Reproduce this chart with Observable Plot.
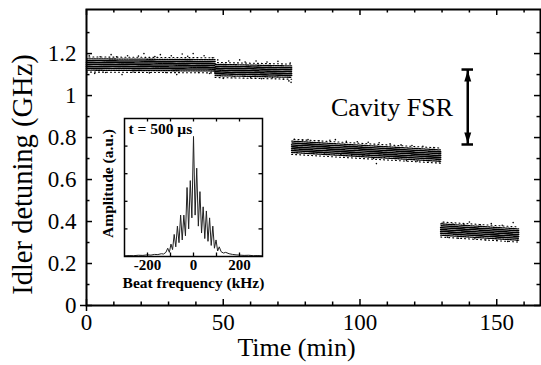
<!DOCTYPE html>
<html>
<head>
<meta charset="utf-8">
<script src="https://cdn.jsdelivr.net/npm/d3@7"></script>
<script src="https://cdn.jsdelivr.net/npm/@observablehq/plot@0.6"></script>
<style>
  html, body { margin: 0; padding: 0; background: white; }
  #wrap { position: relative; width: 541px; height: 365px; }
  #wrap svg { position: absolute; left: 0; top: 0; }
</style>
</head>
<body>
<div id="wrap"></div>
<script>
// ---------- main chart data ----------
const timeMajorTicks = [0, 50, 100, 150];
const timeMinorTicks = [10, 20, 30, 40, 60, 70, 80, 90, 110, 120, 130, 140, 160];
const detuneMajorTicks = [0, 0.2, 0.4, 0.6, 0.8, 1.0, 1.2];
const detuneMinorTicks = [0.1, 0.3, 0.5, 0.7, 0.9, 1.1, 1.3];

// measurement segments (time in min, idler detuning in GHz)
const segStart = [0, 47, 75, 129.5];
const segEnd = [47, 75, 129.5, 158];
const segCenterStart = [1.148, 1.122, 0.756, 0.362];
const segCenterEnd = [1.144, 1.114, 0.714, 0.338];
const bandOffsets = [-0.036, -0.027, -0.018, -0.009, 0, 0.009, 0.018, 0.027, 0.036];

// scattered outlier readings
const outlierTime = [1, 3, 5, 7, 9, 11, 13, 15, 17, 19, 21, 23, 25, 27, 29, 31, 33, 35, 37, 39, 41, 43, 45, 46,
  48, 50, 52, 54, 56, 58, 60, 62, 64, 66, 68, 70, 72, 74, 74.5, 74.8,
  76, 77, 79, 81, 83, 85, 87, 89, 91, 93, 95, 97, 99, 101, 103, 105, 106, 107, 109, 111, 113, 115, 117, 119, 121, 123, 125, 127, 129,
  130, 132, 134, 136, 138, 140, 142, 144, 146, 148, 150, 152, 154, 156, 157.5];
const outlierDetune = [1.19, 1.105, 1.185, 1.11, 1.195, 1.185, 1.10, 1.19, 1.112, 1.188, 1.2, 1.108, 1.186, 1.195, 1.11, 1.19, 1.10, 1.198, 1.187, 1.2, 1.11, 1.19, 1.105, 1.18,
  1.17, 1.082, 1.165, 1.09, 1.17, 1.16, 1.085, 1.165, 1.08, 1.16, 1.085, 1.163, 1.078, 1.07, 1.155, 1.063,
  0.792, 0.728, 0.788, 0.79, 0.725, 0.785, 0.722, 0.787, 0.79, 0.72, 0.782, 0.715, 0.78, 0.712, 0.778, 0.70, 0.676, 0.775, 0.705, 0.77, 0.70, 0.765, 0.69, 0.762, 0.688, 0.758, 0.69, 0.752, 0.685,
  0.392, 0.325, 0.388, 0.32, 0.385, 0.398, 0.318, 0.385, 0.312, 0.39, 0.31, 0.382, 0.305, 0.395, 0.31];

// cavity FSR marker
const fsrTime = 139.4;
const fsrLow = 0.767;
const fsrHigh = 1.124;
const fsrLabel = "Cavity FSR";

// ---------- inset data ----------
const beatFreq = [-300, -280, -260, -240, -220, -200, -185, -170, -155, -140, -130, -120,
  -112, -105, -98, -91, -84, -77, -70, -63, -56, -49, -42, -35, -28, -21, -14, -7,
  0, 7, 14, 21, 28, 35, 42, 49, 56, 63, 70, 77, 84, 91, 98, 105, 112,
  120, 130, 140, 155, 170, 185, 200, 220, 240, 260, 280, 300];
const beatAmp = [0.005, 0.007, 0.006, 0.009, 0.008, 0.012, 0.01, 0.015, 0.014, 0.02, 0.018, 0.03,
  0.06, 0.03, 0.09, 0.05, 0.16, 0.07, 0.22, 0.10, 0.30, 0.12, 0.30, 0.15, 0.50, 0.20, 0.55, 0.28,
  0.87, 0.30, 0.64, 0.22, 0.47, 0.17, 0.36, 0.13, 0.33, 0.11, 0.28, 0.08, 0.22, 0.06, 0.12, 0.04, 0.07,
  0.035, 0.025, 0.03, 0.02, 0.015, 0.012, 0.01, 0.008, 0.009, 0.006, 0.007, 0.005];
const insetFreqLabels = [-200, 0, 200];
const insetFreqTicks = [-200, -100, 0, 100, 200];
const insetAmpTicks = [0.2, 0.4, 0.6, 0.8];
const insetTitle = "t = 500 \u03bcs";
const insetXLabel = "Beat frequency (kHz)";
const insetYLabel = "Amplitude (a.u.)";

// ---------- build ----------
const serif = '"Liberation Serif", "Times New Roman", Times, serif';
const W = 541, H = 365;
const mL = 86, mR = 1, mT = 9, mB = 60;
const fw = W - mL - mR, fh = H - mT - mB;

const bandData = bandOffsets.map(off => segStart.flatMap((t0, i) => [
  {t: t0, y: segCenterStart[i] + off, s: i},
  {t: segEnd[i], y: segCenterEnd[i] + off, s: i}
]));
const bandStyle = (k) => {
  const a = Math.abs(bandOffsets[k]);
  if (a > 0.03) return {dash: "1,3", w: 1.1};
  if (a > 0.02) return {dash: "1.5,1", w: 1.3};
  return {dash: "4,0.7", w: 1.6};
};
const outliers = outlierTime.map((t, i) => ({t, y: outlierDetune[i]}));

const arrowUp = {draw(ctx) { ctx.moveTo(0, 0); ctx.lineTo(3.5, 11); ctx.lineTo(-3.5, 11); ctx.closePath(); }};
const arrowDown = {draw(ctx) { ctx.moveTo(0, 0); ctx.lineTo(3.5, -11); ctx.lineTo(-3.5, -11); ctx.closePath(); }};

const fmt = d => String(+d.toFixed(1));

const main = Plot.plot({
  width: W, height: H,
  marginLeft: mL, marginRight: mR, marginTop: mT, marginBottom: mB,
  x: {domain: [0, 166]},
  y: {domain: [0, 1.41]},
  style: {fontFamily: serif, fontSize: "23px", background: "white", color: "black"},
  marks: [
    // data band
    ...bandOffsets.map((off, k) => Plot.line(bandData[k], {
      x: "t", y: "y", z: "s", stroke: "black",
      strokeWidth: bandStyle(k).w, strokeDasharray: bandStyle(k).dash, strokeDashoffset: k * 0.7
    })),
    Plot.dot(outliers, {x: "t", y: "y", r: 0.8, fill: "black", stroke: null}),
    // cavity FSR marker
    Plot.ruleX([fsrTime], {y1: fsrLow, y2: fsrHigh, stroke: "black", strokeWidth: 2.5}),
    Plot.ruleY([fsrLow, fsrHigh], {x1: fsrTime - 2.1, x2: fsrTime + 2.1, stroke: "black", strokeWidth: 2.5}),
    Plot.dot([fsrHigh], {x: () => fsrTime, y: d => d, symbol: arrowUp, fill: "black", stroke: null, dy: 1}),
    Plot.dot([fsrLow], {x: () => fsrTime, y: d => d, symbol: arrowDown, fill: "black", stroke: null, dy: -1}),
    Plot.text([fsrLabel], {x: () => 134, y: () => 0.944, text: d => d, textAnchor: "end", lineAnchor: "middle", fontSize: 26, fill: "black"}),
    // inward ticks on all four sides
    Plot.tickX(timeMajorTicks, {x: d => d, insetTop: fh - 6, stroke: "black", strokeWidth: 1.5}),
    Plot.tickX(timeMinorTicks, {x: d => d, insetTop: fh - 3.5, stroke: "black", strokeWidth: 1.5}),
    Plot.tickX(timeMajorTicks, {x: d => d, insetBottom: fh - 6, stroke: "black", strokeWidth: 1.5}),
    Plot.tickX(timeMinorTicks, {x: d => d, insetBottom: fh - 3.5, stroke: "black", strokeWidth: 1.5}),
    Plot.tickY(detuneMajorTicks, {y: d => d, insetRight: fw - 6, stroke: "black", strokeWidth: 1.5}),
    Plot.tickY(detuneMinorTicks, {y: d => d, insetRight: fw - 3.5, stroke: "black", strokeWidth: 1.5}),
    Plot.tickY(detuneMajorTicks, {y: d => d, insetLeft: fw - 6, stroke: "black", strokeWidth: 1.5}),
    Plot.tickY(detuneMinorTicks, {y: d => d, insetLeft: fw - 3.5, stroke: "black", strokeWidth: 1.5}),
    Plot.tickX([0], {x: d => d, insetTop: fh, insetBottom: -6, stroke: "black", strokeWidth: 1.5}),
    Plot.tickY([0], {y: d => d, insetRight: fw, insetLeft: -6, stroke: "black", strokeWidth: 1.5}),
    Plot.frame({stroke: "black", strokeWidth: 2}),
    // axes
    Plot.axisX(timeMajorTicks, {tickSize: 0, tickPadding: 8, label: null, tickFormat: d => String(d), fill: "black"}),
    Plot.axisY(detuneMajorTicks, {tickSize: 0, tickPadding: 10, label: null, tickFormat: fmt, fill: "black"}),
    Plot.text(["Time (min)"], {frameAnchor: "bottom", text: d => d, dx: -17, dy: 50, textAnchor: "middle", lineAnchor: "bottom", fontSize: 26, fill: "black"}),
    Plot.text(["Idler detuning (GHz)"], {frameAnchor: "left", text: d => d, rotate: -90, dx: -64, dy: 17, textAnchor: "middle", lineAnchor: "middle", fontSize: 28.5, fill: "black"})
  ]
});

const spectrum = beatFreq.map((f, i) => ({f, a: beatAmp[i]}));
const iL = 124, iR = 262, iT = 118, iB = 256;
const ifw = iR - iL, ifh = iB - iT;

const inset = Plot.plot({
  width: W, height: H,
  marginLeft: iL, marginRight: W - iR, marginTop: iT, marginBottom: H - iB,
  x: {domain: [-300, 300]},
  y: {domain: [0, 1], axis: null},
  style: {fontFamily: serif, fontSize: "15px", fontWeight: "bold", background: "transparent", color: "black", pointerEvents: "none"},
  marks: [
    Plot.frame({fill: "white", stroke: null}),
    Plot.line(spectrum, {x: "f", y: "a", stroke: "#222", strokeWidth: 1}),
    Plot.tickX(insetFreqTicks, {x: d => d, insetTop: ifh - 3.5, stroke: "black", strokeWidth: 1.3}),
    Plot.tickX(insetFreqTicks, {x: d => d, insetBottom: ifh - 3.5, stroke: "black", strokeWidth: 1.3}),
    Plot.tickY(insetAmpTicks, {y: d => d, insetRight: ifw - 3.5, stroke: "black", strokeWidth: 1.3}),
    Plot.tickY(insetAmpTicks, {y: d => d, insetLeft: ifw - 3.5, stroke: "black", strokeWidth: 1.3}),
    Plot.frame({stroke: "black", strokeWidth: 1.5}),
    Plot.axisX(insetFreqLabels, {tickSize: 0, tickPadding: 3, label: null, tickFormat: d => String(d), fill: "black", fontWeight: "bold"}),
    Plot.text([insetTitle], {frameAnchor: "top-left", text: d => d, dx: 4, dy: 4, lineAnchor: "top", textAnchor: "start", fontSize: 15.5, fontWeight: "bold", fill: "black"}),
    Plot.text([insetXLabel], {frameAnchor: "bottom", text: d => d, dy: 27, textAnchor: "middle", lineAnchor: "middle", fontSize: 15.5, fontWeight: "bold", fill: "black"}),
    Plot.text([insetYLabel], {frameAnchor: "left", text: d => d, rotate: -90, dx: -16, dy: -4, textAnchor: "middle", lineAnchor: "middle", fontSize: 15.5, fontWeight: "bold", fill: "black"})
  ]
});

const wrap = document.getElementById("wrap");
wrap.appendChild(main);
wrap.appendChild(inset);
</script>
</body>
</html>
